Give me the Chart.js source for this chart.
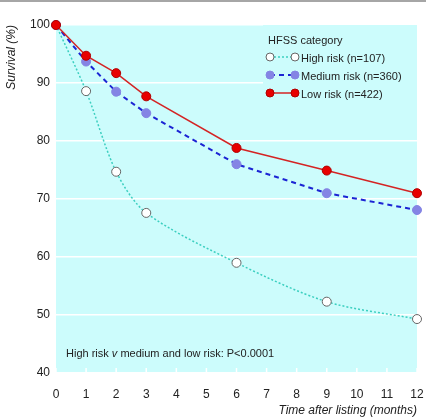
<!DOCTYPE html>
<html>
<head>
<meta charset="utf-8">
<script src="https://cdn.jsdelivr.net/npm/chart.js@4"></script>
<style>
  html, body { margin: 0; padding: 0; background: #fff; }
  #wrap { width: 426px; height: 418px; }
</style>
</head>
<body>
<div id="wrap"><canvas id="chartCanvas" width="426" height="418"></canvas></div>
<script>
// --- Data ---
const months = [0, 1, 2, 3, 6, 9, 12];
const highRisk = [100, 88.6, 74.7, 67.6, 59.0, 52.3, 49.3];
const mediumRisk = [100, 93.7, 88.5, 84.8, 76.0, 71.0, 68.1];
const lowRisk = [100, 94.7, 91.7, 87.7, 78.8, 74.9, 71.0];
const seriesLabels = ["High risk (n=107)", "Medium risk (n=360)", "Low risk (n=422)"];
const xTicks = [0, 1, 2, 3, 4, 5, 6, 7, 8, 9, 10, 11, 12];
const yTicks = [40, 50, 60, 70, 80, 90, 100];

const FONT = "'Liberation Sans', Arial, sans-serif";
const BG = "#ccfcfc";

const toPoints = vals => months.map((m, i) => ({ x: m, y: vals[i] }));

const styles = [
  { line: "#3ccfc0", dash: [2, 2], width: 1.5, fill: "#ffffff", edge: "#666666", tension: 0.3 },
  { line: "#1c24d4", dash: [5, 4], width: 2, fill: "#8484e4", edge: "#8484e4", tension: 0 },
  { line: "#d42424", dash: [], width: 1.5, fill: "#e80000", edge: "#b00000", tension: 0 }
];

const datasets = [highRisk, mediumRisk, lowRisk].map((vals, i) => ({
  label: seriesLabels[i],
  data: toPoints(vals),
  order: 2 - i, // low risk drawn on top
  borderColor: styles[i].line,
  borderDash: styles[i].dash,
  borderWidth: styles[i].width,
  tension: styles[i].tension,
  clip: false,
  pointRadius: 4.5,
  pointBackgroundColor: styles[i].fill,
  pointBorderColor: styles[i].edge,
  pointBorderWidth: 1
}));

// --- Drawing extras: background, rule, inner ticks, legend box, note ---
const extras = {
  id: "extras",
  beforeDraw(chart) {
    const { ctx, chartArea: a } = chart;
    ctx.save();
    ctx.fillStyle = BG;
    ctx.fillRect(a.left, a.top, a.right - a.left, a.bottom - a.top);
    ctx.strokeStyle = "#888";
    ctx.lineWidth = 1.5;
    ctx.beginPath();
    ctx.moveTo(0, 1);
    ctx.lineTo(426, 1);
    ctx.stroke();
    ctx.restore();
  },
  beforeDatasetsDraw(chart) {
    const { ctx, chartArea: a, scales } = chart;
    ctx.save();
    // white ticks inside the bottom of the plot
    ctx.strokeStyle = "#fff";
    ctx.lineWidth = 1.5;
    xTicks.forEach(t => {
      const px = scales.x.getPixelForValue(t);
      ctx.beginPath();
      ctx.moveTo(px, a.bottom);
      ctx.lineTo(px, a.bottom - 5);
      ctx.stroke();
    });
    // legend box covers grid
    ctx.fillStyle = BG;
    ctx.fillRect(263, a.top, a.right - 263, 110);
    ctx.restore();
  },
  afterDraw(chart) {
    const { ctx } = chart;
    ctx.save();
    ctx.fillStyle = "#222";
    ctx.textBaseline = "alphabetic";
    ctx.font = "11px " + FONT;
    ctx.fillText("HFSS category", 268, 44);
    styles.forEach((s, i) => {
      const y = 57 + i * 18;
      ctx.strokeStyle = s.line;
      ctx.lineWidth = s.width;
      ctx.setLineDash(s.dash);
      ctx.beginPath();
      ctx.moveTo(270, y);
      ctx.lineTo(295, y);
      ctx.stroke();
      ctx.setLineDash([]);
      [270, 295].forEach(cx => {
        ctx.beginPath();
        ctx.arc(cx, y, 4, 0, Math.PI * 2);
        ctx.fillStyle = s.fill;
        ctx.fill();
        ctx.lineWidth = 1;
        ctx.strokeStyle = s.edge;
        ctx.stroke();
      });
      ctx.fillStyle = "#222";
      ctx.fillText(seriesLabels[i], 301, y + 5);
    });
    // significance note
    let x = 66;
    const yb = 357;
    ctx.font = "11px " + FONT;
    ctx.fillText("High risk ", x, yb);
    x += ctx.measureText("High risk ").width;
    ctx.font = "italic 11px " + FONT;
    ctx.fillText("v", x, yb);
    x += ctx.measureText("v").width;
    ctx.font = "11px " + FONT;
    ctx.fillText(" medium and low risk: P<0.0001", x, yb);
    ctx.restore();
  }
};

new Chart(document.getElementById("chartCanvas"), {
  type: "line",
  data: { datasets },
  options: {
    responsive: false,
    animation: false,
    layout: { padding: { top: 25, right: 0, left: 4, bottom: 0 } },
    plugins: { legend: { display: false }, tooltip: { enabled: false } },
    scales: {
      x: {
        type: "linear",
        min: 0,
        max: 12,
        afterBuildTicks: s => { s.ticks = xTicks.map(v => ({ value: v })); },
        grid: { display: false },
        border: { display: false },
        ticks: { color: "#222", font: { family: FONT, size: 12 }, padding: 6 },
        title: {
          display: true,
          align: "end",
          text: "Time after listing (months)",
          color: "#222",
          font: { family: FONT, size: 12, style: "italic" },
          padding: { top: 6, bottom: 0 }
        },
        afterFit: s => { s.height = 45; s.paddingLeft = 0; s.paddingRight = 9; }
      },
      y: {
        min: 40,
        max: 100,
        afterBuildTicks: s => { s.ticks = yTicks.map(v => ({ value: v })); },
        grid: { color: "#ffffff", lineWidth: 1.5, drawTicks: false },
        border: { display: false },
        ticks: { color: "#222", font: { family: FONT, size: 12 }, padding: 6 },
        title: {
          display: true,
          align: "end",
          text: "Survival (%)",
          color: "#222",
          font: { family: FONT, size: 12, style: "italic" },
          padding: { top: 0, bottom: 0 }
        },
        afterFit: s => { s.width = 52; }
      }
    }
  },
  plugins: [extras]
});
</script>
</body>
</html>
